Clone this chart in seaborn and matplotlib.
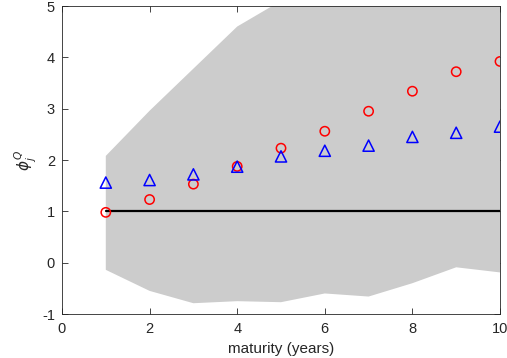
import numpy as np
import pandas as pd
import matplotlib
matplotlib.use("Agg")
import matplotlib.pyplot as plt
import seaborn as sns

maturity = [1, 2, 3, 4, 5, 6, 7, 8, 9, 10]
upper_band = [2.08, 2.96, 3.78, 4.60, 5.10, 5.50, 5.80, 6.10, 6.40, 6.70]
lower_band = [-0.14, -0.55, -0.79, -0.75, -0.77, -0.60, -0.66, -0.40, -0.09, -0.19]
red_circles = [0.98, 1.23, 1.53, 1.875, 2.23, 2.56, 2.95, 3.34, 3.72, 3.92]
blue_triangles = [1.56, 1.61, 1.72, 1.87, 2.07, 2.18, 2.28, 2.45, 2.53, 2.65]
ref_line = [1.0] * 10
x_ticks = [0, 2, 4, 6, 8, 10]
y_ticks = [-1, 0, 1, 2, 3, 4, 5]

sns.set_theme(style="white")
plt.rcParams['font.family'] = ['Liberation Sans', 'DejaVu Sans']
axcol = '#262626'

df = pd.DataFrame({"maturity": maturity, "red": red_circles, "blue": blue_triangles, "ref": ref_line})

fig = plt.figure(figsize=(5.07, 3.58), dpi=100)
ax = fig.add_axes([62/507, 44/358, 438/507, 308/358])

ax.fill_between(maturity, lower_band, upper_band, color='#cccccc', linewidth=0, zorder=1)
sns.lineplot(data=df, x="maturity", y="ref", color='black', linewidth=1.6, ax=ax, zorder=2)
sns.scatterplot(data=df, x="maturity", y="red", marker='o', s=45, facecolor='none',
                edgecolor='red', linewidth=1.1, ax=ax, zorder=3)
sns.scatterplot(data=df, x="maturity", y="blue", marker='^', s=65, facecolor='none',
                edgecolor='blue', linewidth=1.1, ax=ax, zorder=3)

ax.set_xlim(0, 10)
ax.set_ylim(-1, 5)
ax.set_xticks(x_ticks)
ax.set_yticks(y_ticks)
ax.set_xticklabels([str(t) for t in x_ticks])
ax.set_yticklabels([str(t) for t in y_ticks])
ax.tick_params(direction='in', length=4, width=0.6, color=axcol, labelsize=10.5,
               labelcolor=axcol, top=True, right=True, left=True, bottom=True)
ax.tick_params(axis='x', pad=6)
ax.tick_params(axis='y', pad=5)
for s in ax.spines.values():
    s.set_color(axcol)
    s.set_linewidth(0.6)
    s.set_visible(True)
    s.set_zorder(5)
ax.set_xlabel("maturity (years)", fontsize=11, color=axcol, labelpad=4)
ax.set_ylabel(r"$\phi^{Q}_{j}$", fontsize=11, color=axcol, labelpad=2)

fig.savefig("out.png", dpi=100)
